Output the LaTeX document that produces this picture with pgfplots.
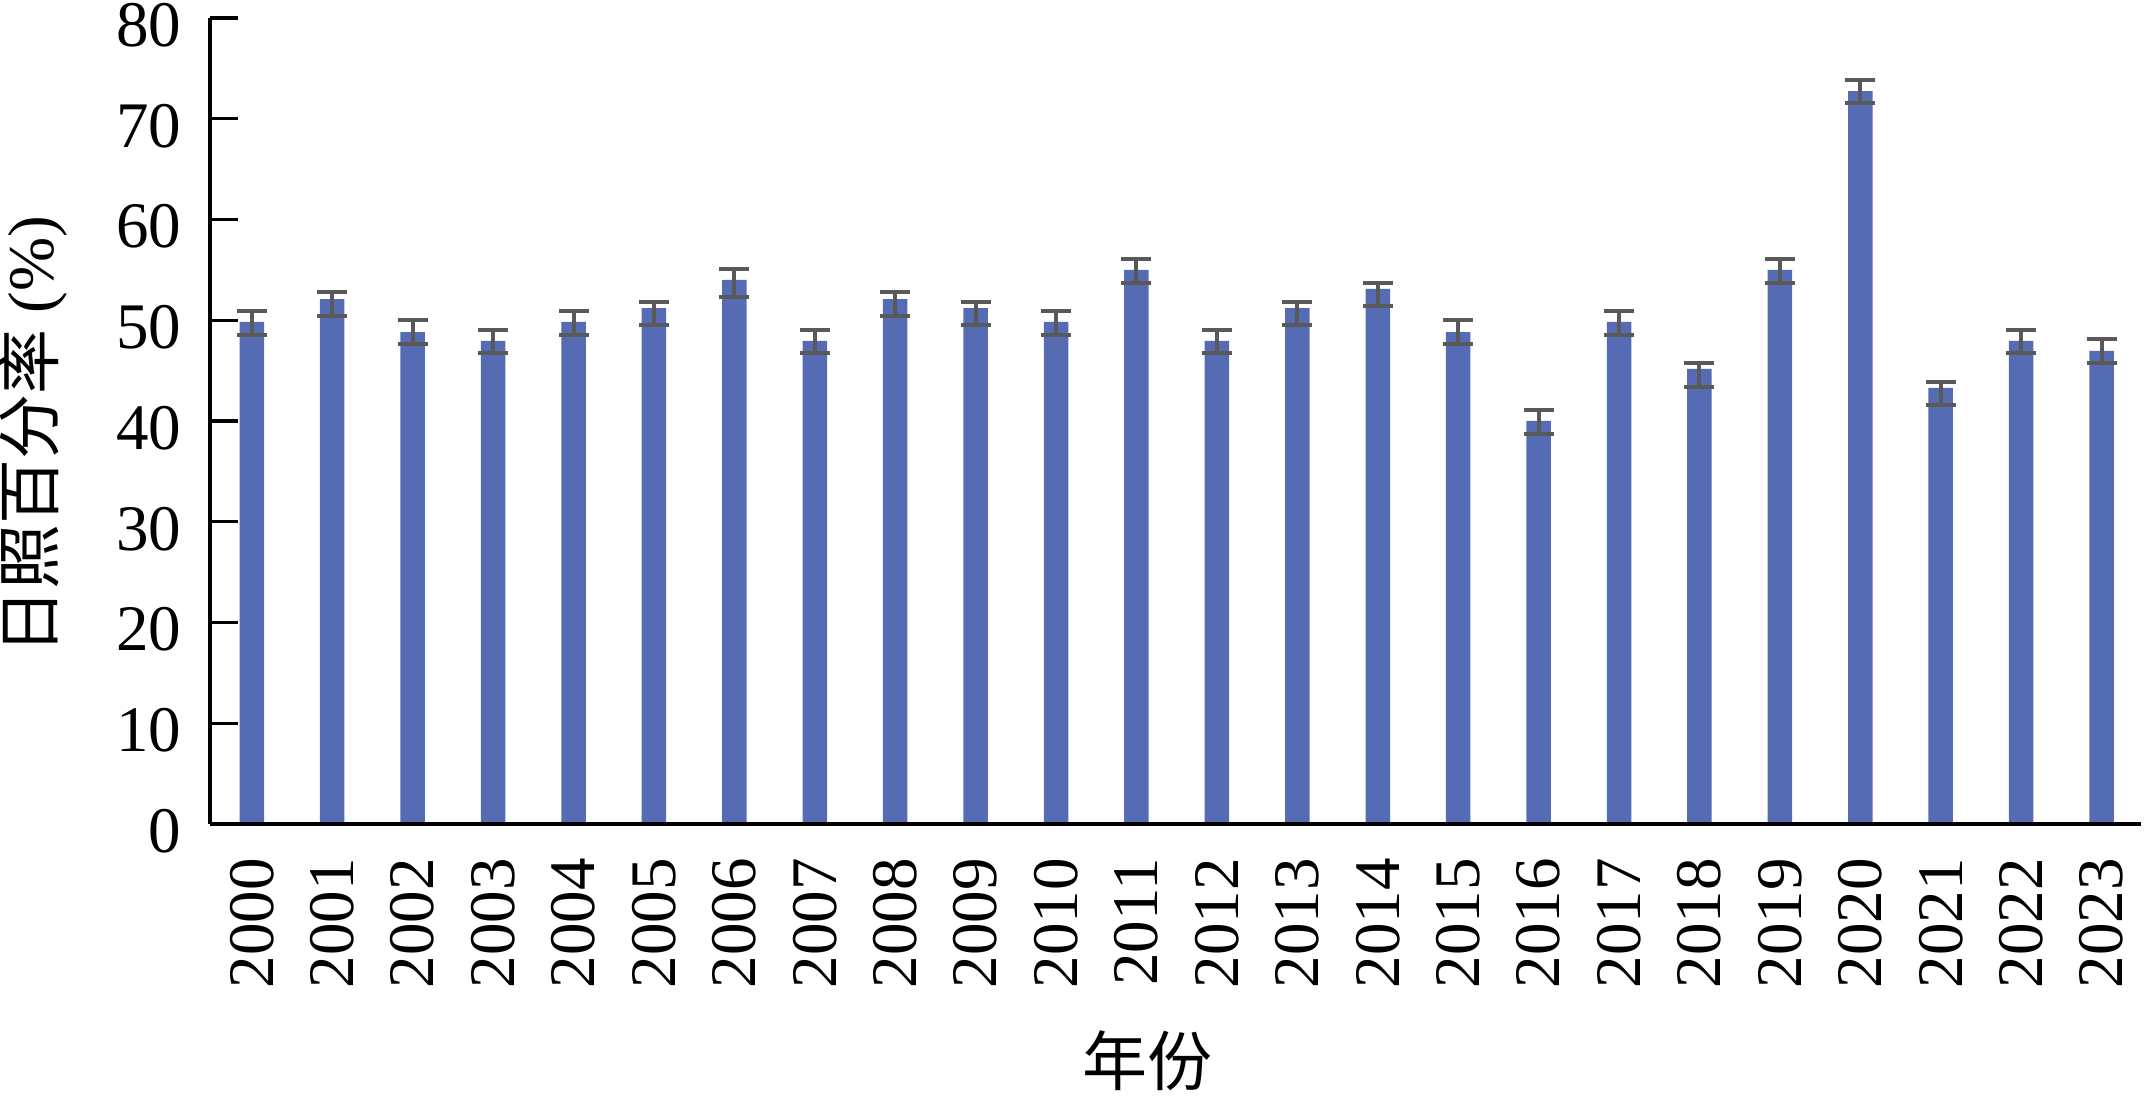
\documentclass[border=0pt]{standalone}
\usepackage{fontspec}
\setmainfont{Liberation Serif}
\newfontfamily\cjk{Noto Sans CJK SC}
\usepackage{pgfplots}
\usepackage{pgfplotstable}
\pgfplotsset{compat=1.18}
\usetikzlibrary{calc}

\definecolor{barblue}{RGB}{85,108,180}
\definecolor{errgray}{RGB}{89,89,89}

% x = year index (0 = 2000), y = sunshine percentage, ep/em = error up/down
\pgfplotstableread{
x  y      ep    em
0  49.83  1.09  1.29
1  52.10  0.69  1.65
2  48.83  1.19  1.19
3  47.94  1.09  1.19
4  49.83  1.09  1.29
5  51.20  0.60  1.69
6  54.00  1.09  1.69
7  47.94  1.09  1.19
8  52.10  0.69  1.65
9  51.20  0.60  1.69
10 49.83  1.09  1.29
11 54.99  1.09  1.29
12 47.94  1.09  1.19
13 51.20  0.60  1.69
14 53.10  0.60  1.69
15 48.83  1.19  1.19
16 40.00  1.09  1.26
17 49.83  1.09  1.29
18 45.16  0.60  1.79
19 54.99  1.09  1.29
20 72.75  1.09  1.16
21 43.28  0.60  1.69
22 47.94  1.09  1.19
23 46.95  1.19  1.19
}\sunshine

\begin{document}
\begin{tikzpicture}[font=\fontsize{13}{15.6}\selectfont]
\begin{axis}[
    name=ax,
    scale only axis,
    width=386.2pt, height=161.2pt,
    xmin=-0.52, xmax=23.49,
    ymin=0, ymax=80,
    enlargelimits=false,
    axis lines*=left,
    axis line style={-, line width=0.65pt, black},
    axis on top,
    clip=false,
    ytick={0,10,...,80},
    tick align=inside,
    major tick length=5.6pt,
    ytick style={line width=0.65pt, black},
    xtick={0,...,23},
    xtick style={draw=none},
    xticklabels={2000,2001,2002,2003,2004,2005,2006,2007,2008,2009,2010,2011,
                 2012,2013,2014,2015,2016,2017,2018,2019,2020,2021,2022,2023},
    /pgf/number format/assume math mode=true,
    tick label style={font=\fontsize{13}{15.6}\selectfont},
    y tick label style={xshift=-2.2pt, yshift=-1.4pt},
    x tick label style={yshift=-3.3pt, rotate=90, anchor=east},
    every axis x label/.style={at={(rel axis cs:0.5,0)}, xshift=-5.5pt, yshift=-37.8pt, anchor=north},
    every axis y label/.style={at={(rel axis cs:0,0.4826)}, xshift=-45.8pt, rotate=90, anchor=north},
    xlabel={\cjk 年份},
    ylabel={{\cjk 日照百分率} (\%)},
]
\addplot[ybar, bar width=4.9pt, bar shift=0pt, fill=barblue, draw=none,
    error bars/.cd,
        y dir=both, y explicit,
        error bar style={line width=0.8pt, errgray},
        error mark options={rotate=90, mark size=3pt, line width=0.8pt, errgray}]
    table[x=x, y=y, y error plus=ep, y error minus=em] {\sunshine};
\end{axis}
\pgfresetboundingbox
\path ($(ax.south west)+(-42pt,-55.4pt)$) rectangle ($(ax.north east)+(0.8pt,3.6pt)$);
\end{tikzpicture}
\end{document}
